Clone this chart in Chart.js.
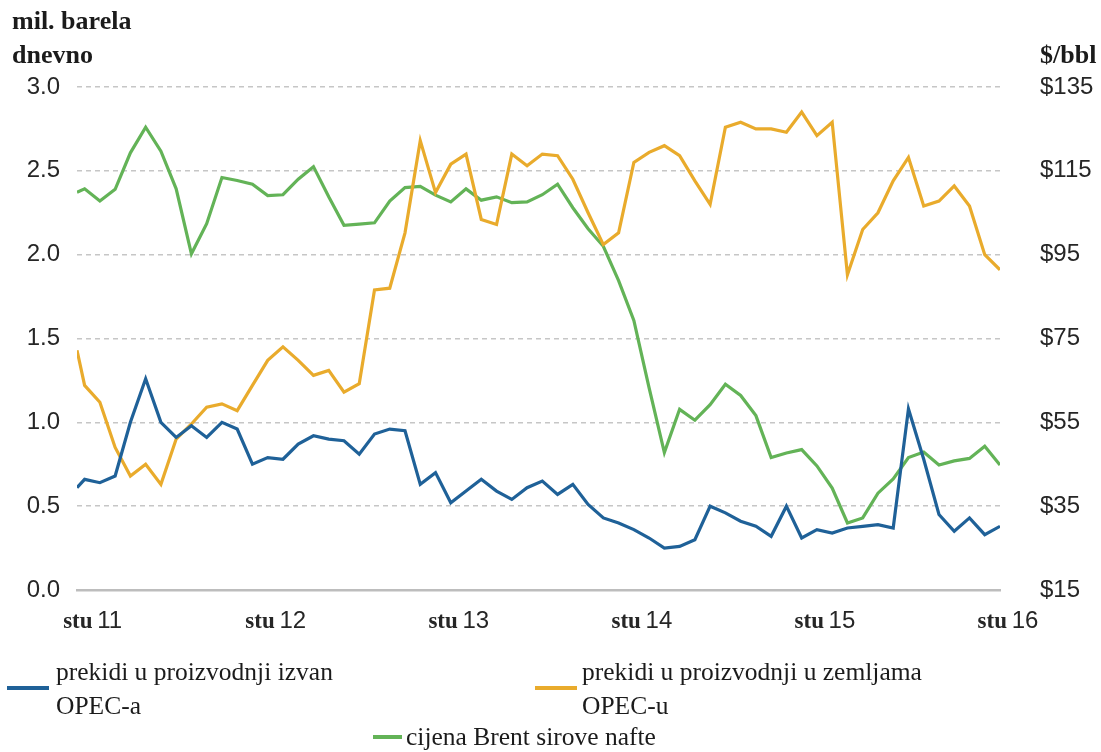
<!DOCTYPE html>
<html>
<head>
<meta charset="utf-8">
<title>Prekidi u proizvodnji i cijena Brent nafte</title>
<script src="https://cdn.jsdelivr.net/npm/chart.js@4.4.1/dist/chart.umd.min.js"></script>
<style>
  html, body { margin: 0; padding: 0; background: #fff; }
  #wrap { position: relative; width: 1101px; height: 752px; overflow: hidden; }
  #wrap canvas { position: absolute; left: 0; top: 0; }
  .txt { position: absolute; font-family: 'Liberation Serif', 'Times New Roman', serif; color: #1b1b1b; white-space: nowrap; }
  .axis-title { font-weight: bold; font-size: 26px; line-height: 34px; }
  .leg { font-size: 25.5px; line-height: 34px; }
  .swatch { position: absolute; height: 4px; }
</style>
</head>
<body>
<div id="wrap">
  <canvas id="chart" width="1101" height="752"></canvas>
  <div class="txt axis-title" style="left:12px; top:4px;">mil. barela<br>dnevno</div>
  <div class="txt axis-title" style="left:1040px; top:38px;">$/bbl</div>

  <div class="swatch" style="left:7px; top:686px; width:42px; background:#1f6198;"></div>
  <div class="txt leg" style="left:56px; top:655px;">prekidi u proizvodnji izvan<br>OPEC-a</div>

  <div class="swatch" style="left:535px; top:686px; width:42px; background:#e9ab2c;"></div>
  <div class="txt leg" style="left:582px; top:655px;">prekidi u proizvodnji u zemljama<br>OPEC-u</div>

  <div class="swatch" style="left:373px; top:735px; width:29px; background:#63b357;"></div>
  <div class="txt leg" style="left:406px; top:720px;">cijena Brent sirove nafte</div>
</div>

<script>
// Prekidi u proizvodnji nafte vs. cijena Brenta, stu 11 - stu 16
// =============================================================

// month index (0 = stu 11); the series start half a month before the first tick
const monthIndex = [-0.5].concat(Array.from({ length: 61 }, (_, i) => i))

// x tick labels: month index -> label
const tickMonths = [0, 12, 24, 36, 48, 60]
const tickYears = ['11', '12', '13', '14', '15', '16']

// mil. barela dnevno (left axis)
const nonOpec = [
  0.61, 0.66, 0.64, 0.68, 1.00, 1.26, 1.00, 0.91, 0.98, 0.91, 1.00, 0.96,
  0.75, 0.79, 0.78, 0.87, 0.92, 0.90, 0.89, 0.81, 0.93, 0.96, 0.95, 0.63,
  0.70, 0.52, 0.59, 0.66, 0.59, 0.54, 0.61, 0.65, 0.57, 0.63, 0.51, 0.43,
  0.40, 0.36, 0.31, 0.25, 0.26, 0.30, 0.50, 0.46, 0.41, 0.38, 0.32, 0.50,
  0.31, 0.36, 0.34, 0.37, 0.38, 0.39, 0.37, 1.08, 0.78, 0.45, 0.35, 0.43,
  0.33, 0.38
]

const opec = [
  1.43, 1.22, 1.12, 0.85, 0.68, 0.75, 0.63, 0.90, 0.99, 1.09, 1.11, 1.07,
  1.22, 1.37, 1.45, 1.37, 1.28, 1.31, 1.18, 1.23, 1.79, 1.80, 2.13, 2.68,
  2.37, 2.54, 2.60, 2.21, 2.18, 2.60, 2.53, 2.60, 2.59, 2.45, 2.25, 2.06,
  2.13, 2.55, 2.61, 2.65, 2.59, 2.44, 2.30, 2.76, 2.79, 2.75, 2.75, 2.73,
  2.85, 2.71, 2.79, 1.88, 2.15, 2.25, 2.44, 2.58, 2.29, 2.32, 2.41, 2.29,
  2.00, 1.91
]

// $/bbl (right axis)
const brent = [
  109.9, 110.7, 107.8, 110.6, 119.3, 125.4, 119.7, 110.7, 95.2, 102.4, 113.4, 112.7,
  111.8, 109.1, 109.3, 113.0, 116.0, 108.8, 102.0, 102.3, 102.6, 107.8, 111.0, 111.3,
  109.2, 107.6, 110.7, 108.0, 108.8, 107.4, 107.6, 109.3, 111.8, 106.2, 101.2, 97.0,
  88.8, 79.3, 63.2, 47.8, 58.1, 55.5, 59.2, 64.1, 61.4, 56.6, 46.6, 47.7,
  48.5, 44.6, 39.3, 31.0, 32.2, 38.1, 41.5, 46.6, 47.9, 44.8, 45.8, 46.4,
  49.3, 44.8
]

const colors = {
  blue: '#1f6198',
  orange: '#e9ab2c',
  green: '#63b357',
  grid: '#c6c6c6',
  axis: '#bdbdbd',
  text: '#262626'
}

class OilDisruptionChart {

  constructor () {
    this.init()
  }

  init () {
    this.lineChart()
  }

  points (values) {
    return values.map((v, i) => ({ x: monthIndex[i], y: v }))
  }

  // "stu" bold serif + year in sans, as in the original
  xLabelsPlugin () {
    return {
      id: 'xLabels',
      afterDraw (chart) {
        const ctx = chart.ctx
        const xs = chart.scales.x
        const y = chart.chartArea.bottom + 31
        const bold = 'bold 23px "Liberation Serif", "Times New Roman", serif'
        const reg = '24px "Liberation Sans", Arial, sans-serif'
        ctx.save()
        ctx.textBaseline = 'middle'
        ctx.textAlign = 'left'
        ctx.fillStyle = colors.text
        tickMonths.forEach((m, i) => {
          ctx.font = bold
          const w1 = ctx.measureText('stu').width
          ctx.font = reg
          const w2 = ctx.measureText(' ' + tickYears[i]).width
          const x0 = xs.getPixelForValue(m) + 9 - (w1 + w2) / 2
          ctx.font = bold
          ctx.fillText('stu', x0, y + 1)
          ctx.font = reg
          ctx.fillText(' ' + tickYears[i], x0 + w1 - 2, y)
        })
        ctx.restore()
      }
    }
  }

  lineChart () {
    const tickFont = { family: '"Liberation Sans", Arial, sans-serif', size: 24 }
    const line = (label, values, color, axis) => ({
      label: label,
      data: this.points(values),
      yAxisID: axis,
      borderColor: color,
      backgroundColor: color,
      borderWidth: 3.2,
      pointRadius: 0,
      tension: 0,
      fill: false
    })

    const data = {
      type: 'line',
      data: {
        datasets: [
          line('prekidi u proizvodnji izvan OPEC-a', nonOpec, colors.blue, 'y'),
          line('prekidi u proizvodnji u zemljama OPEC-u', opec, colors.orange, 'y'),
          line('cijena Brent sirove nafte', brent, colors.green, 'y2')
        ]
      },
      options: {
        responsive: false,
        animation: false,
        layout: { padding: { top: 87, bottom: 112, left: 0, right: 0 } },
        plugins: {
          legend: { display: false },
          tooltip: { enabled: false }
        },
        scales: {
          x: {
            type: 'linear',
            min: -0.5,
            max: 60,
            grid: { display: false },
            border: { display: true, color: colors.axis, width: 2.5 },
            ticks: { display: false },
            afterFit: (scale) => { scale.height = 50 }
          },
          y: {
            position: 'left',
            min: 0,
            max: 3,
            grid: {
              drawTicks: false,
              lineWidth: 1.4,
              color: (ctx) => ctx.tick && ctx.tick.value === 0 ? 'rgba(0,0,0,0)' : colors.grid
            },
            border: { display: false, dash: [5, 4] },
            ticks: {
              stepSize: 0.5,
              padding: 17,
              color: colors.text,
              font: tickFont,
              callback: (v) => v.toFixed(1)
            },
            afterFit: (scale) => { scale.width = 77 }
          },
          y2: {
            position: 'right',
            min: 15,
            max: 135,
            grid: { drawOnChartArea: false, drawTicks: false },
            border: { display: false },
            ticks: {
              stepSize: 20,
              padding: 40,
              color: colors.text,
              font: tickFont,
              callback: (v) => '$' + v
            },
            afterFit: (scale) => { scale.width = 101 }
          }
        }
      },
      plugins: [this.xLabelsPlugin()]
    }

    // init chart
    let chart = new Chart(document.getElementById('chart'), data)
  }
}

new OilDisruptionChart()
</script>
</body>
</html>
